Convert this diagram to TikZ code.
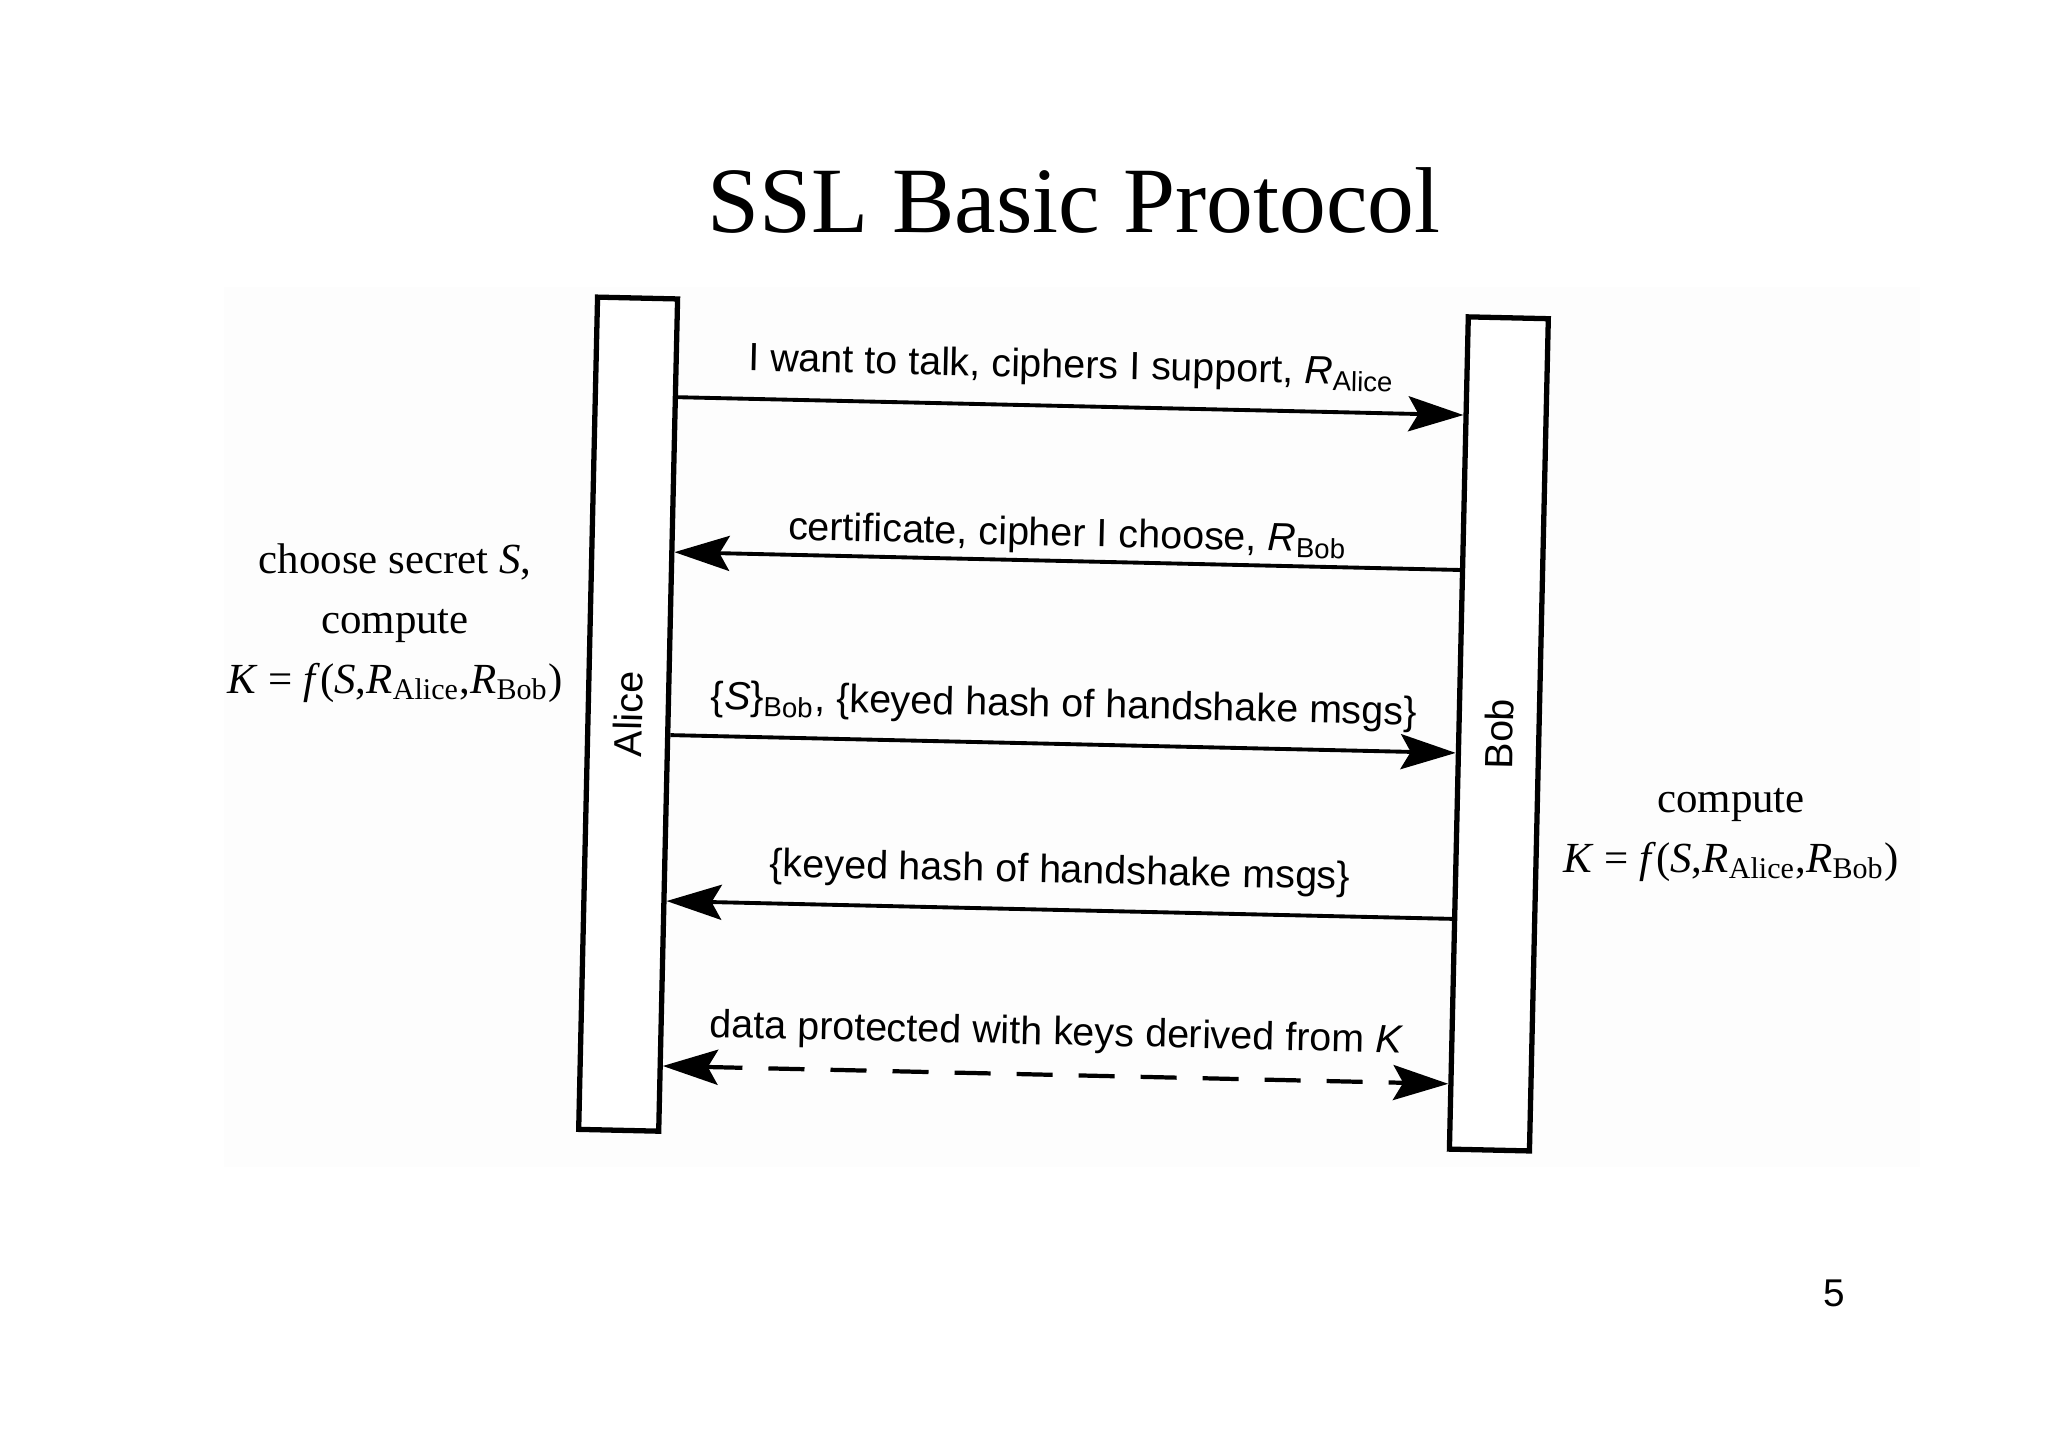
\documentclass[tikz,border=0pt]{standalone}
\usepackage{fontspec}
\setmainfont{Liberation Serif}
\setsansfont{Liberation Sans}
\usetikzlibrary{arrows.meta}

\begin{document}
\begin{tikzpicture}[
    x=0.01cm, y=-0.01cm,
    party/.style     = {draw=black, line width=1.5pt, fill=white, minimum width=0.8cm, minimum height=8.32cm, inner sep=0pt},
    partyname/.style = {font=\sffamily\fontsize{11.2}{13}\selectfont, rotate=90},
    msg/.style       = {line width=1.1pt, -{Stealth[length=5.5mm, width=3.5mm, inset=1mm]}},
    datamsg/.style   = {line width=1.2pt, dash pattern=on 0.36cm off 0.26cm,
                        {Stealth[length=5.5mm, width=3.5mm, inset=1mm]}-{Stealth[length=5.5mm, width=3.5mm, inset=1mm]}},
    msgtext/.style   = {font=\sffamily\fontsize{11.2}{13}\selectfont, anchor=base, inner sep=0pt},
    note/.style      = {font=\fontsize{12.2}{17}\selectfont, align=center, inner sep=0pt},
    title/.style     = {font=\fontsize{26.6}{32}\selectfont, anchor=base, inner sep=0pt},
    pagenum/.style   = {font=\sffamily\fontsize{11}{13}\selectfont, anchor=base, inner sep=0pt}
]
\useasboundingbox (0,0) rectangle (2048,1447);

% scanned area
\fill[black!0.8] (224,287) rectangle (1920,1167);

\node[title] (title) at (1074,232) {SSL Basic Protocol};

\begin{scope}[rotate around={-1.3:(1063,724)}, transform shape]

% the two parties
\node[party, label={[partyname]center:Alice}] (alice) at (628,724)  {};
\node[party, label={[partyname]center:Bob}]   (bob)   at (1499,724) {};

% heights of the messages
\foreach \y [count=\i] in {406,561,744,910,1075}
    \coordinate (lvl\i) at (0,\y);

% messages
\draw[msg] (alice.east |- lvl1) -- node[msgtext, yshift=0.28cm]
    {I want to talk, ciphers I support, \textit{R}\textsubscript{Alice}} (bob.west |- lvl1);
\draw[msg] (bob.west |- lvl2) -- node[msgtext, yshift=0.15cm]
    {certificate, cipher I choose, \textit{R}\textsubscript{Bob}} (alice.east |- lvl2);
\draw[msg] (alice.east |- lvl3) -- node[msgtext, yshift=0.27cm]
    {\{\textit{S}\}\textsubscript{Bob}, \{keyed hash of handshake msgs\}} (bob.west |- lvl3);
\draw[msg] (bob.west |- lvl4) -- node[msgtext, yshift=0.27cm]
    {\{keyed hash of handshake msgs\}} (alice.east |- lvl4);
\draw[datamsg] (alice.east |- lvl5) -- node[msgtext, yshift=0.3cm]
    {data protected with keys derived from \textit{K}} (bob.west |- lvl5);

\end{scope}

% what each side computes
\node[note] (alicenote) at (395,623)
    {choose secret \textit{S},\\ compute\\
     \textit{K} = \textit{f}(\textit{S},\textit{R}\textsubscript{Alice},\textit{R}\textsubscript{Bob})};
\node[note] (bobnote) at (1731,835)
    {compute\\
     \textit{K} = \textit{f}(\textit{S},\textit{R}\textsubscript{Alice},\textit{R}\textsubscript{Bob})};

\node[pagenum] (page) at (1834,1306) {5};

\end{tikzpicture}
\end{document}
